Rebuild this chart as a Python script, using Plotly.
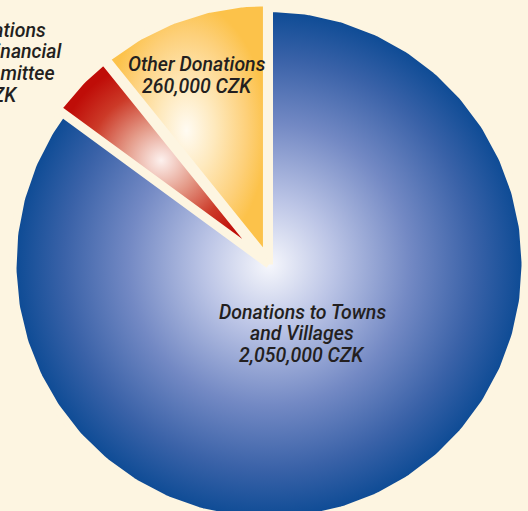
import numpy as np
import plotly.graph_objects as go

# ---- data ----
categories = ["Donations to Towns and Villages", "Donations by the Financial Committee", "Other Donations"]
values = [2050000, 100000, 260000]
label_lines = [
    ["Donations to Towns", "and Villages", "2,050,000 CZK"],
    ["Special Donations", "Approved by Financial", "and Social Committee", "100,000 CZK"],
    ["Other Donations", "260,000 CZK"],
]
pulls = [0.0, 0.024, 0.024]

# ---- styles ----
BG = "#fdf5e1"
gradients = [
    [[0, "#f6f7fc"], [0.25, "#bcc5e6"], [0.55, "#7389c4"], [0.8, "#3a62a8"], [1, "#0b4a94"]],
    [[0, "#fdf1ee"], [0.35, "#e49a88"], [0.7, "#cc3a28"], [1, "#bf0d08"]],
    [[0, "#fffbf2"], [0.35, "#fee9bd"], [0.75, "#fdd07a"], [1, "#fcc24a"]],
]
FONT = "Roboto, Liberation Sans Narrow, sans-serif"
W, H = 528, 511
S = 256.5           # pixels per unit radius
cx, cy = 269.0, 264.5

fig = go.Figure()

total = float(sum(values))
start = 0.0
for i, v in enumerate(values):
    frac = v / total
    a0 = start * 2 * np.pi
    a1 = (start + frac) * 2 * np.pi
    mid = (a0 + a1) / 2
    dx = pulls[i] * np.sin(mid)
    dy = pulls[i] * np.cos(mid)
    t = np.linspace(a0, a1, max(8, int(frac * 400)))
    xs = np.concatenate([[0.0], np.sin(t), [0.0]]) + dx
    ys = np.concatenate([[0.0], np.cos(t), [0.0]]) + dy
    fig.add_trace(go.Scatter(
        x=xs, y=ys, mode="lines", fill="toself",
        line=dict(color=BG, width=8),
        fillgradient=dict(type="radial", colorscale=gradients[i]),
        name=categories[i], hoverinfo="skip", showlegend=False,
    ))
    start += frac

# labels: one annotation per line (pixel positions converted to paper coords)
LINE_H = 21.7
label_anchor = [  # (x px, first-line y px, xanchor)
    ([302, 302, 302], 312, "center"),
    ([48, 64, 57, 20], 30, "right"),
    ([197, 197], 65, "center"),
]
for i, lines in enumerate(label_lines):
    xs_px, y0, xa = label_anchor[i]
    for j, line in enumerate(lines):
        fig.add_annotation(
            x=xs_px[j] / W, y=1 - (y0 + j * LINE_H) / H, xref="paper", yref="paper",
            text=line, showarrow=False, align=xa if xa != "center" else "center",
            xanchor=xa, yanchor="middle",
            font=dict(family=FONT, size=19.5, color="#231f20", style="italic", weight=500),
        )

fig.update_layout(
    width=W, height=H,
    margin=dict(l=0, r=0, t=0, b=0),
    paper_bgcolor=BG, plot_bgcolor=BG,
    xaxis=dict(range=[-cx / S, (W - cx) / S], visible=False, fixedrange=True),
    yaxis=dict(range=[-(H - cy) / S, cy / S], visible=False, fixedrange=True),
    showlegend=False,
)
fig.write_html(
    "out.html",
    config={"displayModeBar": False},
    post_script="document.body.style.margin='0';document.body.style.background='%s';" % BG,
)
